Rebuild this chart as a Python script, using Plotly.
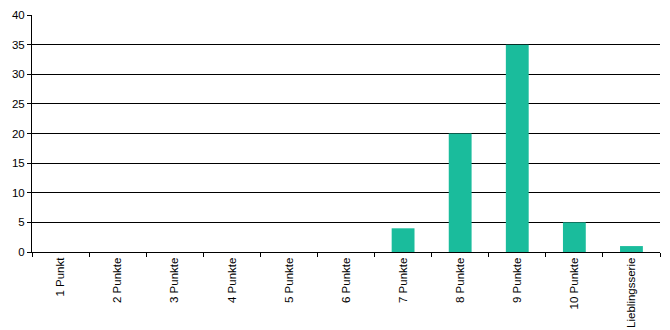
import plotly.graph_objects as go

categories = ["1 Punkt", "2 Punkte", "3 Punkte", "4 Punkte", "5 Punkte", "6 Punkte",
              "7 Punkte", "8 Punkte", "9 Punkte", "10 Punkte", "Lieblingsserie"]
values = [0, 0, 0, 0, 0, 0, 4, 20, 35, 5, 1]
y_ticks = [0, 5, 10, 15, 20, 25, 30, 35, 40]

fig = go.Figure(go.Bar(x=categories, y=values, marker_color="#1ABC9C",
                       marker_line_width=0))

fig.update_layout(
    width=670, height=330,
    margin=dict(l=32, r=10, t=15, b=78),
    paper_bgcolor="white", plot_bgcolor="white",
    bargap=0.6, showlegend=False,
    font=dict(family="Liberation Sans, Arial, sans-serif", size=11.5, color="black"),
)
fig.update_xaxes(
    type="category", tickangle=-90, tickson="boundaries",
    ticks="outside", ticklen=4, tickcolor="black",
    showline=True, linecolor="black", linewidth=1,
    showgrid=False, zeroline=False, automargin=False,
)
fig.update_yaxes(
    range=[0, 40], tickvals=y_ticks,
    ticks="outside", ticklen=4, tickcolor="black",
    showline=True, linecolor="black", linewidth=1,
    showgrid=True, gridcolor="black", gridwidth=1,
    zeroline=False, automargin=False,
)
fig.write_html("out.html")
